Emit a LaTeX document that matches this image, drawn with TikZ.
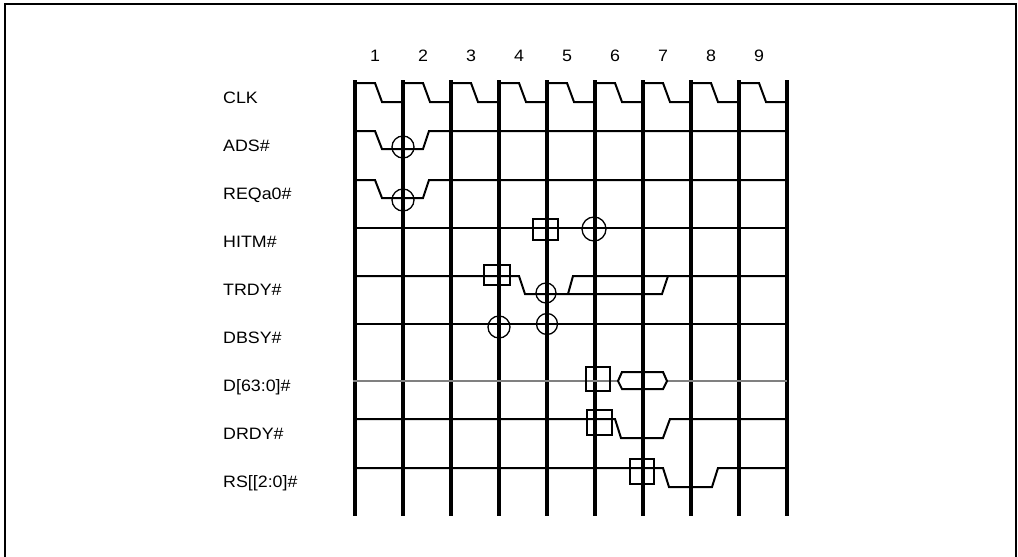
\documentclass[tikz,border=0pt]{standalone}
\usepackage{fontspec}
\setmainfont{Liberation Sans}
\begin{document}
\begin{tikzpicture}[x=1pt,y=-1pt,
  grid/.style={line width=3.2pt},
  wave/.style={line width=2pt, line join=miter},
  bus/.style={line width=2pt, draw=black!50},
  frameline/.style={line width=2.2pt},
  mark circ/.style={circle, draw, line width=1.3pt, inner sep=0pt},
  mark sq/.style={rectangle, draw, line width=2pt, inner sep=0pt},
  siglabel/.style={anchor=base west, inner sep=0pt, font=\fontsize{16.5}{18}\selectfont},
  numlabel/.style={inner sep=0pt, font=\fontsize{16.5}{18}\selectfont}]
\useasboundingbox (0,0) rectangle (1018,557);
% frame
\draw[frameline] (5,560) -- (5,4) -- (1016,4) -- (1016,560);
% grid lines and cycle numbers
\foreach \i in {0,...,9} {
  \coordinate (top\i) at (355+48*\i,80);
  \coordinate (bot\i) at (355+48*\i,516);
  \draw[grid] (top\i) -- (bot\i);
}
\foreach \i [count=\n] in {0,...,8} {
  \node[numlabel] (num\n) at (375+48*\i,56) {\scalebox{1.08}[1]{\n}};
}
% signal labels
\node[siglabel] (lclk) at (223,103) {\scalebox{1.08}[1]{CLK}};
\node[siglabel] (lads) at (223,151) {\scalebox{1.08}[1]{ADS\#}};
\node[siglabel] (lreq) at (223,199) {\scalebox{1.08}[1]{REQa0\#}};
\node[siglabel] (lhit) at (223,247) {\scalebox{1.08}[1]{HITM\#}};
\node[siglabel] (ltrd) at (223,295) {\scalebox{1.08}[1]{TRDY\#}};
\node[siglabel] (ldbs) at (223,343) {\scalebox{1.08}[1]{DBSY\#}};
\node[siglabel] (ldat) at (223,391) {\scalebox{1.08}[1]{D[63:0]\#}};
\node[siglabel] (ldrd) at (223,439) {\scalebox{1.08}[1]{DRDY\#}};
\node[siglabel] (lrs)  at (223,487) {\scalebox{1.08}[1]{RS[[2:0]\#}};
% CLK
\foreach \i in {0,...,8} {
  \draw[wave] (355+48*\i,83) -- (375+48*\i,83) -- (382+48*\i,102) -- (403+48*\i,102) -- (403+48*\i,83);
}
% ADS#
\draw[wave] (355,131) -- (375,131) -- (382,149) -- (423,149) -- (429,131) -- (787,131);
% REQa0#
\draw[wave] (355,180) -- (375,180) -- (382,198) -- (423,198) -- (429,180) -- (787,180);
% HITM#
\draw[wave] (355,228) -- (787,228);
% TRDY#
\draw[wave] (355,276) -- (519,276) -- (525,294) -- (662,294) -- (668,276) -- (787,276);
\draw[wave] (568,294) -- (573,276) -- (668,276);
% DBSY#
\draw[wave] (355,324) -- (787,324);
% D[63:0]#
\draw[bus] (353,381) -- (618,381);
\draw[bus] (667,381) -- (787,381);
\draw[wave] (618,381) -- (622,372) -- (663,372) -- (667,381) -- (663,389) -- (622,389) -- cycle;
% DRDY#
\draw[wave] (355,419) -- (615,419) -- (621,438) -- (663,438) -- (670,419) -- (787,419);
% RS
\draw[wave] (355,468) -- (663,468) -- (669,487) -- (712,487) -- (718,468) -- (787,468);
% markers
\node[mark circ, minimum size=22pt] (c1) at (403,147) {};
\node[mark circ, minimum size=22pt] (c2) at (403,200) {};
\node[mark circ, minimum size=24pt] (c3) at (594,229) {};
\node[mark circ, minimum size=20pt] (c4) at (546,293) {};
\node[mark circ, minimum size=22pt] (c5) at (499,327) {};
\node[mark circ, minimum size=21pt] (c6) at (547,324) {};
\node[mark sq, minimum width=25pt, minimum height=21pt] (s1) at (545.5,229.5) {};
\node[mark sq, minimum width=26pt, minimum height=20pt] (s2) at (497,275) {};
\node[mark sq, minimum width=24pt, minimum height=24pt] (s3) at (598,379) {};
\node[mark sq, minimum width=25pt, minimum height=25pt] (s4) at (599,422) {};
\node[mark sq, minimum width=24pt, minimum height=25pt] (s5) at (642,471) {};
\end{tikzpicture}
\end{document}
